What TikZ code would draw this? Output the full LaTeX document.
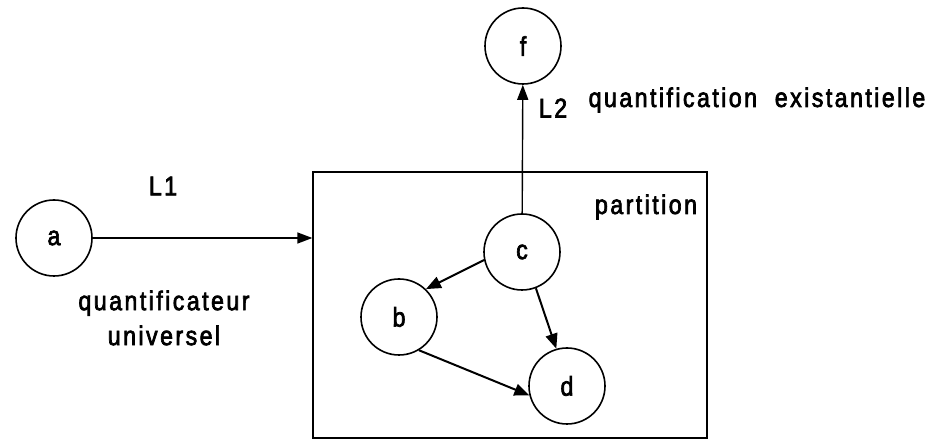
\documentclass[tikz,border=0pt]{standalone}
\usepackage{fontspec}
\setmainfont[LetterSpace=9, FakeStretch=0.86, FakeBold=2.5]{Liberation Sans}
\usetikzlibrary{arrows.meta}
\begin{document}
\begin{tikzpicture}[x=1pt,y=1pt,
  vert/.style={draw, circle, line width=1.6pt, minimum size=76pt, inner sep=0pt},
  lbl/.style={inner sep=0pt},
  conn/.style={line width=2pt, -{Triangle[length=15pt,width=12pt]}},
  thin/.style={line width=1.4pt, -{Triangle[length=15pt,width=11pt]}},
  every node/.style={font=\fontsize{27}{35}\selectfont}]
\useasboundingbox (0,0) rectangle (946,442);
\node[draw, line width=1.3pt, minimum width=394pt, minimum height=266pt, inner sep=0pt] (part) at (510,137) {};
\node[vert] (a) at (54,204) {a};
\node[vert] (c) at (522,190) {c};
\node[vert] (b) at (399,125) {b};
\node[vert] (d) at (567,56) {d};
\node[vert] (f) at (523,396) {f};
\node[lbl] (l1) at (163,256) {L1};
\node[lbl, align=center] (qu) at (164,124) {quantificateur\\universel};
\node[lbl] (pt) at (646,235) {partition};
\node[lbl] (l2) at (553,334) {L2};
\node[lbl] (qe) at (757,342) {quantification\ \ existantielle};
\draw[thin] (a) -- (a -| part.west);
\draw[thin] (c) -- (f);
\draw[conn] (c.192) -- (b.46);
\draw[conn] (c.291) -- (d.106);
\draw[conn] (b.301) -- (d.194);
\end{tikzpicture}
\end{document}
